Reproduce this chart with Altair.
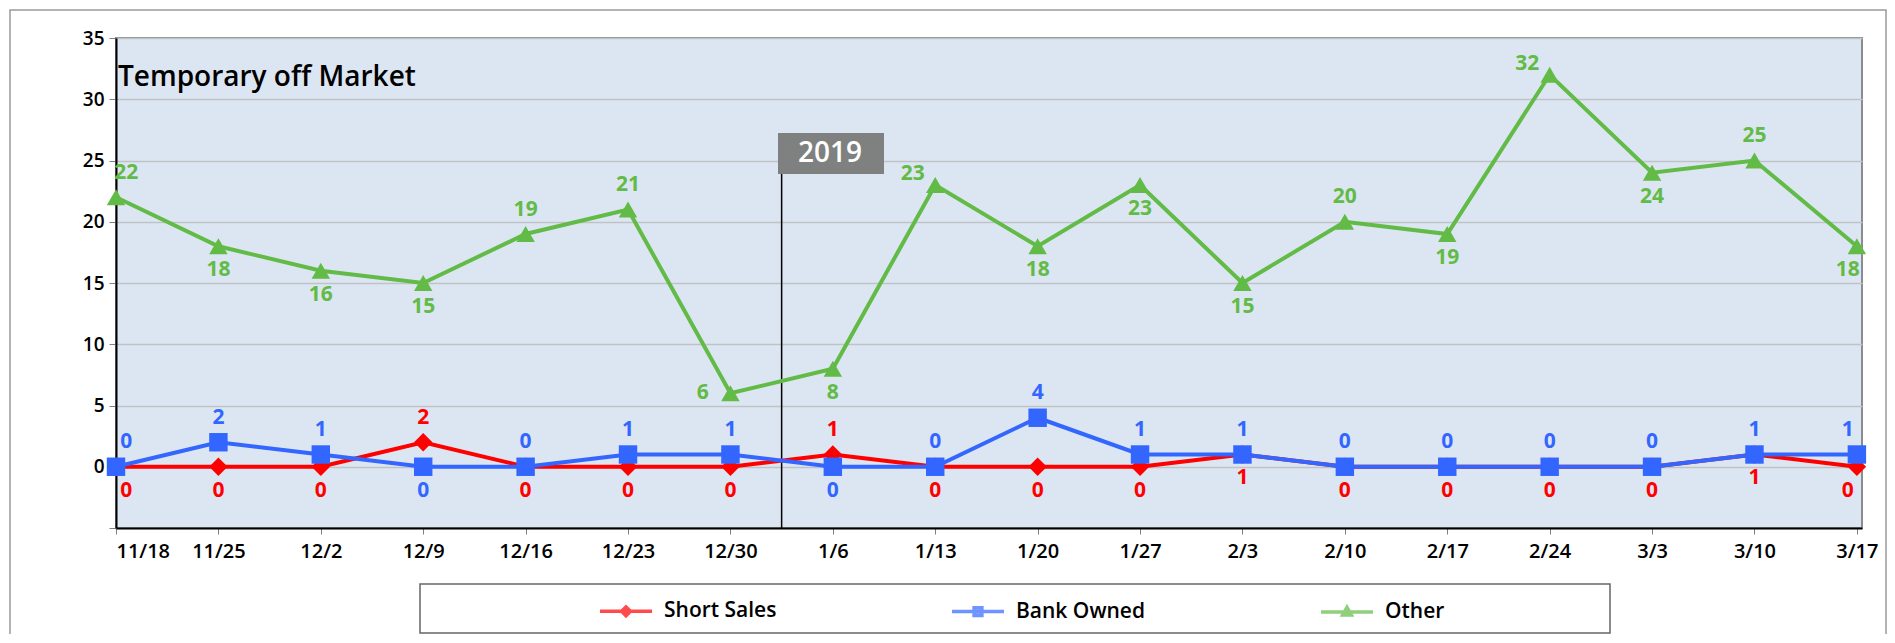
import altair as alt
import pandas as pd

# ---------------- data ----------------
dates = ["11/18", "11/25", "12/2", "12/9", "12/16", "12/23", "12/30", "1/6", "1/13",
         "1/20", "1/27", "2/3", "2/10", "2/17", "2/24", "3/3", "3/10", "3/17"]
short_sales = [0, 0, 0, 2, 0, 0, 0, 1, 0, 0, 0, 1, 0, 0, 0, 0, 1, 0]
bank_owned = [0, 2, 1, 0, 0, 1, 1, 0, 0, 4, 1, 1, 0, 0, 0, 0, 1, 1]
other = [22, 18, 16, 15, 19, 21, 6, 8, 23, 18, 23, 15, 20, 19, 32, 24, 25, 18]

series_names = ["Short Sales", "Bank Owned", "Other"]
series_colors = ["#ff0000", "#3366ff", "#62bb46"]

# where each data label sits relative to its point (as in the original)
short_pos = ["below", "below", "below", "above", "below", "below", "below", "above", "below",
             "below", "below", "below", "below", "below", "below", "below", "below", "below"]
bank_pos = ["above", "above", "above", "below", "above", "above", "above", "below", "above",
            "above", "above", "above", "above", "above", "above", "above", "above", "above"]
other_pos = ["above", "below", "below", "below", "above", "above", "left", "below", "upleft",
             "below", "below", "below", "above", "below", "upleft", "below", "above", "below"]

year_marks = [{"i": 6.5, "label": "2019"}]
chart_title = "Temporary off Market"

rows = []
for k, (name, vals, pos) in enumerate(zip(series_names, [short_sales, bank_owned, other],
                                          [short_pos, bank_pos, other_pos])):
    for i, (v, p) in enumerate(zip(vals, pos)):
        rows.append({"series": name, "k": k, "i": i, "date": dates[i], "value": v, "pos": p})
df = pd.DataFrame(rows)

# ---------------- layout ----------------
FONT = "Open Sans"
W, H = 1746, 490
PAD = {"left": 108, "top": 30, "right": 25, "bottom": 106}

label_expr = "[" + ",".join("'%s'" % d for d in dates) + "][datum.value]"

xscale = alt.Scale(domain=[0, 17.05], nice=False, zero=False)
yscale = alt.Scale(domain=[-5, 35], nice=False, zero=False)
xaxis = alt.Axis(values=list(range(len(dates))), labelExpr=label_expr, title=None, grid=False,
                 domainColor="#000000", domainWidth=2, tickColor="#808080", tickSize=6,
                 tickWidth=1, labelFontSize=20, labelFontWeight=600, labelPadding=7,
                 labelColor="#000000", labelFont=FONT)
yaxis = alt.Axis(values=list(range(-5, 40, 5)), labelExpr="datum.value < 0 ? '' : datum.label",
                 title=None, grid=True, gridColor="#bfc3c8", gridWidth=1.5,
                 domainColor="#000000", domainWidth=2, tickColor="#808080", tickSize=7,
                 labelFontSize=19, labelFontWeight=600, labelPadding=5, labelColor="#000000",
                 labelFont=FONT)


def X(field):
    return alt.X(field, type="quantitative", scale=xscale, axis=xaxis, title=None)


def Y(field):
    return alt.Y(field, type="quantitative", scale=yscale, axis=yaxis, title=None)


color = alt.Color("series:N", scale=alt.Scale(domain=series_names, range=series_colors),
                  legend=None)

base = alt.Chart(df)

lines = base.mark_line(strokeWidth=4).encode(
    x=X("i"), y=Y("value"), color=color, detail="series:N", order="i:Q")

points = base.mark_point(filled=True, size=340, opacity=1, strokeWidth=0).encode(
    x=X("i"), y=Y("value"), color=color,
    shape=alt.Shape("series:N", scale=alt.Scale(domain=series_names,
                                                 range=["diamond", "square", "triangle-up"]),
                    legend=None),
    order=alt.Order("k:Q"))

labels = base.transform_calculate(
    lx="datum.i + (datum.i == 0 ? 0.1 : datum.i == 17 ? -0.09 : 0)"
       " + (datum.pos == 'left' ? -0.27 : datum.pos == 'upleft' ? -0.22 : 0)",
    ly="datum.value + (datum.pos == 'above' ? 2.0 : datum.pos == 'below' ? -1.95 :"
       " datum.pos == 'upleft' ? 0.9 : 0)",
).mark_text(font=FONT, fontSize=21, fontWeight="bold", align="center", baseline="middle").encode(
    x=X("lx"), y=Y("ly"), text="value:Q", color=color)

# year separator
ym = alt.Chart(pd.DataFrame(year_marks))
year_rule = ym.mark_rule(color="#000000", strokeWidth=1.5).encode(
    x=X("i"), y=alt.value(136), y2=alt.value(H))
year_box = ym.mark_rect(color="#7f8180").encode(
    x=alt.value(662), x2=alt.value(768), y=alt.value(95), y2=alt.value(136))
year_text = ym.mark_text(font=FONT, fontSize=28, fontWeight=600, color="#ffffff",
                         align="center", baseline="middle").encode(
    x=alt.value(714), y=alt.value(116), text="label:N")

title_text = alt.Chart(pd.DataFrame({"t": [chart_title]})).mark_text(
    font=FONT, fontSize=28, fontWeight=600, color="#000000", align="left",
    baseline="alphabetic").encode(
    x=alt.value(2), y=alt.value(48), text="t:N")

# legend frame and outer frame (decoration)
legend_frame = alt.Chart(pd.DataFrame({"a": [0]})).mark_rect(
    fill="#ffffff", stroke="#666666", strokeWidth=1.5).encode(
    x=alt.value(304), x2=alt.value(1494), y=alt.value(546), y2=alt.value(595))
outer_frame = alt.Chart(pd.DataFrame({"a": [0]})).mark_rect(
    fill=None, stroke="#9a9a9a", strokeWidth=1.5).encode(
    x=alt.value(-106), x2=alt.value(W + PAD["right"] - 1), y=alt.value(-28),
    y2=alt.value(H + PAD["bottom"] + 20))

# legend (line + marker symbols)
legend_paths = [
    "M-1,0L1,0M0,-0.17L0.17,0L0,0.17L-0.17,0Z",
    "M-1,0L1,0M-0.15,-0.15L0.15,-0.15L0.15,0.15L-0.15,0.15Z",
    "M-1,0L1,0M0,-0.18L0.17,0.12L-0.17,0.12Z",
]
leg = alt.Legend(title=None, orient="none", legendX=482, legendY=545, direction="horizontal",
                 padding=0, symbolSize=2700, symbolStrokeWidth=3.5, labelFontSize=21,
                 labelFontWeight=600, labelFont=FONT, labelColor="#000000", labelOffset=10,
                 columnPadding=168)
legend_layer = base.transform_filter("false").mark_point(filled=True, strokeWidth=3.5).encode(
    x=X("i"), y=Y("value"),
    fill=alt.Fill("series:N", scale=alt.Scale(domain=series_names, range=series_colors),
                  legend=leg),
    stroke=alt.Stroke("series:N", scale=alt.Scale(domain=series_names, range=series_colors),
                      legend=leg),
    shape=alt.Shape("series:N", scale=alt.Scale(domain=series_names, range=legend_paths),
                    legend=leg),
)

chart = alt.layer(
    outer_frame, legend_frame, year_rule, lines, points, labels, year_box, year_text,
    title_text, legend_layer
).resolve_scale(
    shape="independent", fill="independent", stroke="independent"
).properties(
    width=W, height=H, padding=PAD, autosize=alt.AutoSizeParams(type="none"),
    background="#ffffff"
).configure_view(
    fill="#dce6f2", stroke="#8c8c8c", strokeWidth=2
)

chart.save("out.html", embed_options={"renderer": "svg", "actions": False})
